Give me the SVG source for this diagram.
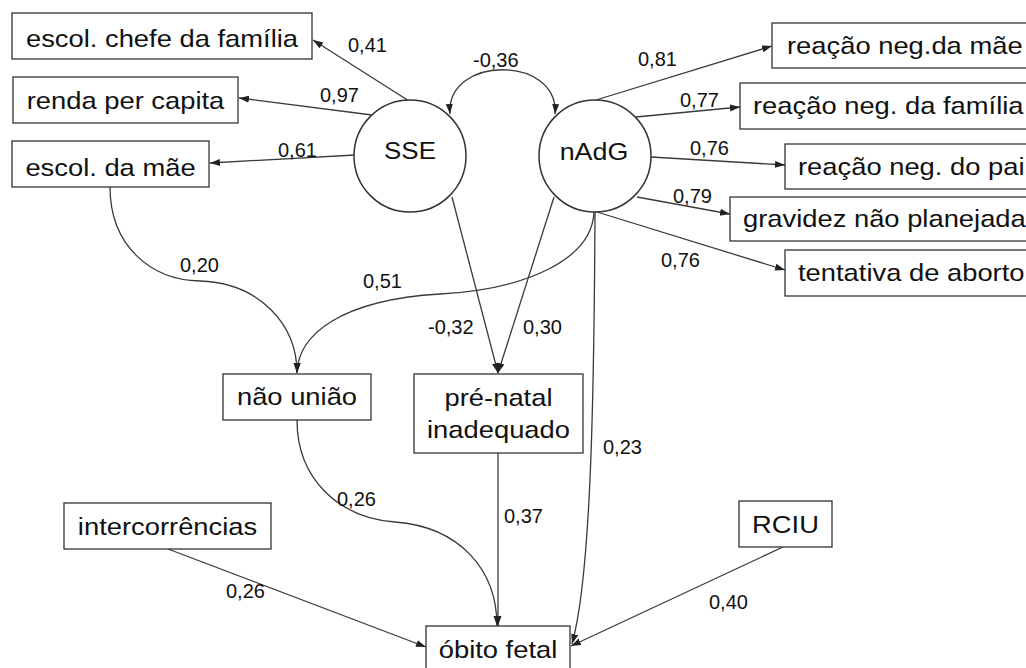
<svg xmlns="http://www.w3.org/2000/svg" width="1026" height="668" viewBox="0 0 1026 668">
  <style>
    .box { fill: #ffffff; stroke: #333333; stroke-width: 1.3; }
    .lat { fill: #ffffff; stroke: #333333; stroke-width: 1.5; }
    .nt { font-family: "Liberation Sans", Arial, sans-serif; font-size: 24px; fill: #111111; }
    .mid { text-anchor: middle; }
    .lbl { font-family: "Liberation Sans", Arial, sans-serif; font-size: 20px; fill: #111111; }
    .conn path { fill: none; stroke: #3a3a3a; stroke-width: 1.3; }
  </style>
  <defs>
    <marker id="ah" markerUnits="userSpaceOnUse" markerWidth="11" markerHeight="8" refX="10" refY="3.5" orient="auto-start-reverse">
      <path d="M0,0 L10,3.5 L0,7 z" fill="#222222"/>
    </marker>
  </defs>
  <rect width="1026" height="668" fill="#ffffff"/>

  <!-- connectors -->
  <g id="connectors" class="conn">
    <path d="M409,101 L313,40" marker-end="url(#ah)"/>
    <path d="M372,115 L239,98" marker-end="url(#ah)"/>
    <path d="M355,155 L210,163" marker-end="url(#ah)"/>
    <path d="M450,114 C446,55 559,55 555,114" marker-start="url(#ah)" marker-end="url(#ah)"/>
    <path d="M596,100 L772,46" marker-end="url(#ah)"/>
    <path d="M636,117 L740,107" marker-end="url(#ah)"/>
    <path d="M651,157 L785,165" marker-end="url(#ah)"/>
    <path d="M637,197 L730,214" marker-end="url(#ah)"/>
    <path d="M597,212 L785,270" marker-end="url(#ah)"/>
    <path d="M110,187 C110,245 150,280 200,281 C260,283 297,325 297,373" marker-end="url(#ah)"/>
    <path d="M594,212 C592,262 520,290 440,294 C340,300 298,335 297,373" marker-end="url(#ah)"/>
    <path d="M452,197 L498,373" marker-end="url(#ah)"/>
    <path d="M554,197 L498,373" marker-end="url(#ah)"/>
    <path d="M595,212 C594,420 590,580 572,644" marker-end="url(#ah)"/>
    <path d="M297,420 C297,480 340,518 395,522 C460,527 497,570 497,626" marker-end="url(#ah)"/>
    <path d="M498,453 L498,626" marker-end="url(#ah)"/>
    <path d="M168,549 L426,647" marker-end="url(#ah)"/>
    <path d="M783,547 L571,646" marker-end="url(#ah)"/>
  </g>

  <!-- path coefficients -->
  <g id="labels" class="lbl">
    <text x="348" y="52">0,41</text>
    <text x="320" y="102">0,97</text>
    <text x="278" y="157">0,61</text>
    <text x="473" y="67">-0,36</text>
    <text x="638" y="66">0,81</text>
    <text x="680" y="107">0,77</text>
    <text x="690" y="155">0,76</text>
    <text x="673" y="203">0,79</text>
    <text x="661" y="267">0,76</text>
    <text x="180" y="272">0,20</text>
    <text x="363" y="288">0,51</text>
    <text x="428" y="334">-0,32</text>
    <text x="523" y="334">0,30</text>
    <text x="603" y="454">0,23</text>
    <text x="337" y="506">0,26</text>
    <text x="504" y="523">0,37</text>
    <text x="226" y="598">0,26</text>
    <text x="709" y="609">0,40</text>
  </g>

  <!-- latent variables -->
  <g id="sse">
    <circle class="lat" cx="410" cy="156" r="56"/>
    <text class="nt mid" transform="translate(410,159) scale(1.08,1)">SSE</text>
  </g>
  <g id="nadg">
    <circle class="lat" cx="595" cy="156" r="56"/>
    <text class="nt mid" transform="translate(594,160) scale(1.12,1)">nAdG</text>
  </g>

  <!-- SSE indicators -->
  <g id="escol-chefe">
    <rect class="box" x="12" y="13" width="300" height="46"/>
    <text class="nt mid" transform="translate(162,47) scale(1.14,1)">escol. chefe da família</text>
  </g>
  <g id="renda">
    <rect class="box" x="13" y="77" width="225" height="46"/>
    <text class="nt mid" transform="translate(125.5,109) scale(1.14,1)">renda per capita</text>
  </g>
  <g id="escol-mae">
    <rect class="box" x="12" y="141" width="197" height="46"/>
    <text class="nt mid" transform="translate(110.5,176) scale(1.14,1)">escol. da mãe</text>
  </g>

  <!-- nAdG indicators -->
  <g id="reacao-mae">
    <rect class="box" x="772" y="23" width="280" height="45"/>
    <text class="nt" transform="translate(787,54) scale(1.14,1)">reação neg.da mãe</text>
  </g>
  <g id="reacao-familia">
    <rect class="box" x="740" y="83" width="310" height="46"/>
    <text class="nt" transform="translate(753,114) scale(1.14,1)">reação neg. da família</text>
  </g>
  <g id="reacao-pai">
    <rect class="box" x="785" y="144" width="270" height="45"/>
    <text class="nt" transform="translate(798,175) scale(1.14,1)">reação neg. do pai</text>
  </g>
  <g id="gravidez">
    <rect class="box" x="730" y="197" width="320" height="44"/>
    <text class="nt" transform="translate(743,227) scale(1.14,1)">gravidez não planejada</text>
  </g>
  <g id="tentativa">
    <rect class="box" x="785" y="250" width="270" height="46"/>
    <text class="nt" transform="translate(798,281) scale(1.14,1)">tentativa de aborto</text>
  </g>

  <!-- mediators and outcome -->
  <g id="nao-uniao">
    <rect class="box" x="223" y="374" width="148" height="46"/>
    <text class="nt mid" transform="translate(297,405) scale(1.14,1)">não união</text>
  </g>
  <g id="pre-natal">
    <rect class="box" x="414" y="374" width="169" height="79"/>
    <text class="nt mid" transform="translate(498.5,406) scale(1.14,1)">pré-natal</text>
    <text class="nt mid" transform="translate(498.5,438) scale(1.14,1)">inadequado</text>
  </g>
  <g id="intercorrencias">
    <rect class="box" x="64" y="503" width="207" height="46"/>
    <text class="nt mid" transform="translate(167.5,535) scale(1.14,1)">intercorrências</text>
  </g>
  <g id="rciu">
    <rect class="box" x="739" y="501" width="93" height="46"/>
    <text class="nt mid" transform="translate(785.5,533) scale(1.14,1)">RCIU</text>
  </g>
  <g id="obito">
    <rect class="box" x="426" y="626" width="144" height="50"/>
    <text class="nt mid" transform="translate(498,658) scale(1.14,1)">óbito fetal</text>
  </g>
</svg>
